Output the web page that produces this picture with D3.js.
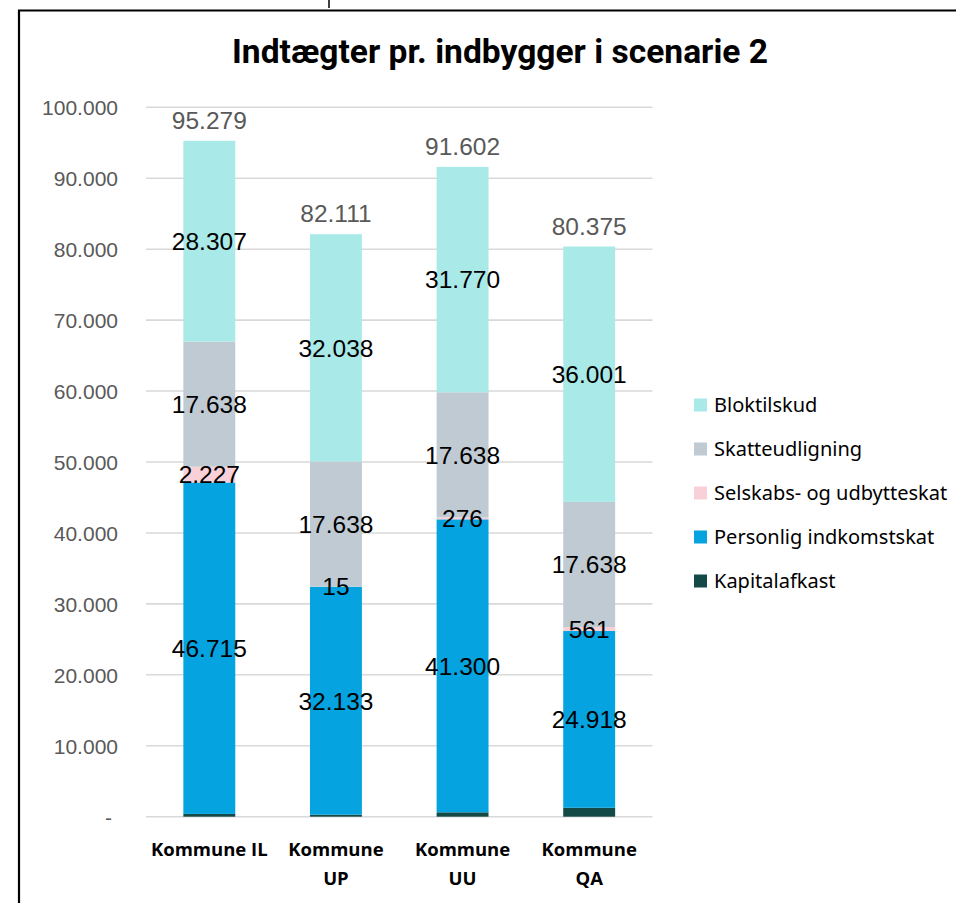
<!DOCTYPE html>
<html>
<head>
<meta charset="utf-8">
<script src="https://cdn.jsdelivr.net/npm/d3@7"></script>
<style>
  body { margin: 0; background: #fff; }
  svg { display: block; }
</style>
</head>
<body>
<svg id="chart" width="956" height="903"></svg>
<script>
// Data
const kommuner = ["Kommune IL", "Kommune UP", "Kommune UU", "Kommune QA"];
const kommuneLinjer = [["Kommune IL"], ["Kommune", "UP"], ["Kommune", "UU"], ["Kommune", "QA"]];
const kapitalafkast = [392, 287, 618, 1257];
const personligSkat = [46715, 32133, 41300, 24918];
const selskabsSkat = [2227, 15, 276, 561];
const skatteudligning = [17638, 17638, 17638, 17638];
const bloktilskud = [28307, 32038, 31770, 36001];
const totaler = [95279, 82111, 91602, 80375];
const yTicks = [0, 10000, 20000, 30000, 40000, 50000, 60000, 70000, 80000, 90000, 100000];

const serier = [
    { navn: "Kapitalafkast", values: kapitalafkast, color: "#134a48", label: false },
    { navn: "Personlig indkomstskat", values: personligSkat, color: "#05a4e0", label: true },
    { navn: "Selskabs- og udbytteskat", values: selskabsSkat, color: "#f9d0d8", label: true },
    { navn: "Skatteudligning", values: skatteudligning, color: "#c0cad3", label: true },
    { navn: "Bloktilskud", values: bloktilskud, color: "#a9eae8", label: true }
];

// dansk talformat: 95.279
function fmt(v) {
    return d3.format(",")(v).replace(/,/g, ".");
}

const svg = d3.select("#chart");

// ramme
svg.append("path")
    .attr("d", "M19,903 V10.5 H956")
    .attr("fill", "none")
    .attr("stroke", "#000")
    .attr("stroke-width", 2.2);
svg.append("line")
    .attr("x1", 329).attr("x2", 329)
    .attr("y1", 0).attr("y2", 8)
    .attr("stroke", "#000")
    .attr("stroke-width", 1.5);

// titel
svg.append("text")
    .attr("x", 500)
    .attr("y", 63)
    .attr("text-anchor", "middle")
    .attr("font-family", "'Liberation Sans Narrow', 'Roboto', sans-serif")
    .attr("font-weight", "bold")
    .attr("font-size", 33)
    .attr("textLength", 536)
    .attr("lengthAdjust", "spacingAndGlyphs")
    .attr("fill", "#000")
    .text("Indtægter pr. indbygger i scenarie 2");

// scales
const x = d3.scaleBand()
    .domain(kommuner)
    .range([146, 652.5])
    .paddingInner(0.59)
    .paddingOuter(0.295);

const y = d3.scaleLinear()
    .domain([0, 100000])
    .range([816.7, 107.3]);

// gridlines
svg.append("g")
    .selectAll("line")
    .data(yTicks)
    .join("line")
    .attr("x1", 146)
    .attr("x2", 652.5)
    .attr("y1", d => y(d))
    .attr("y2", d => y(d))
    .attr("stroke", "#d9d9d9")
    .attr("stroke-width", 1.6);

// y-akse labels
const yAxis = d3.axisLeft(y)
    .tickValues(yTicks)
    .tickSize(0)
    .tickPadding(0)
    .tickFormat(d => d === 0 ? "-" : fmt(d));

const yG = svg.append("g")
    .attr("transform", "translate(118,0)")
    .call(yAxis);
yG.select(".domain").remove();
yG.selectAll("text")
    .attr("font-family", "'Liberation Sans', Arial, sans-serif")
    .attr("font-size", 21)
    .attr("fill", "#595959")
    .attr("dy", "0.36em")
    .attr("dx", d => d === 0 ? -6 : 0);

// stack
const rows = kommuner.map((k, i) => {
    const row = { kommune: k };
    serier.forEach(s => { row[s.navn] = s.values[i]; });
    return row;
});
const stack = d3.stack().keys(serier.map(s => s.navn))(rows);

const layers = svg.append("g")
    .selectAll("g")
    .data(stack)
    .join("g")
    .attr("fill", (d, i) => serier[i].color);

layers.selectAll("rect")
    .data(d => d)
    .join("rect")
    .attr("x", d => x(d.data.kommune))
    .attr("width", x.bandwidth())
    .attr("y", d => y(d[1]))
    .attr("height", d => y(d[0]) - y(d[1]));

// segment labels
svg.append("g")
    .selectAll("g")
    .data(stack.filter((d, i) => serier[i].label))
    .join("g")
    .selectAll("text")
    .data(d => d.map(v => ({ v: v, key: d.key })))
    .join("text")
    .attr("x", d => x(d.v.data.kommune) + x.bandwidth() / 2)
    .attr("y", d => y((d.v[0] + d.v[1]) / 2))
    .attr("dy", "0.36em")
    .attr("text-anchor", "middle")
    .attr("font-family", "'Liberation Sans', Arial, sans-serif")
    .attr("font-size", 24.5)
    .attr("fill", "#000")
    .text(d => fmt(d.v.data[d.key]));

// totaler
svg.append("g")
    .selectAll("text")
    .data(kommuner)
    .join("text")
    .attr("x", d => x(d) + x.bandwidth() / 2)
    .attr("y", (d, i) => y(totaler[i]) - 12)
    .attr("text-anchor", "middle")
    .attr("font-family", "'Liberation Sans', Arial, sans-serif")
    .attr("font-size", 24.5)
    .attr("fill", "#595959")
    .text((d, i) => fmt(totaler[i]));

// x-akse labels
const xLabels = svg.append("g")
    .selectAll("text")
    .data(kommuner)
    .join("text")
    .attr("x", d => x(d) + x.bandwidth() / 2)
    .attr("y", 856)
    .attr("text-anchor", "middle")
    .attr("font-family", "'Open Sans', 'Noto Sans', sans-serif")
    .attr("font-weight", "bold")
    .attr("font-size", 18.5)
    .attr("fill", "#000");

xLabels.selectAll("tspan")
    .data((d, i) => kommuneLinjer[i])
    .join("tspan")
    .attr("x", function() { return this.parentNode.getAttribute("x"); })
    .attr("dy", (d, i) => i === 0 ? 0 : 29)
    .text(d => d);

// legende
const legend = svg.append("g")
    .selectAll("g")
    .data(serier.slice().reverse())
    .join("g")
    .attr("transform", (d, i) => `translate(694, ${405 + i * 44})`);

legend.append("rect")
    .attr("x", 0)
    .attr("y", -6.5)
    .attr("width", 13)
    .attr("height", 13)
    .attr("fill", d => d.color);

legend.append("text")
    .attr("x", 20)
    .attr("dy", "0.36em")
    .attr("font-family", "'Noto Sans', 'Open Sans', sans-serif")
    .attr("font-size", 20)
    .attr("fill", "#000")
    .text(d => d.navn);
</script>
</body>
</html>
